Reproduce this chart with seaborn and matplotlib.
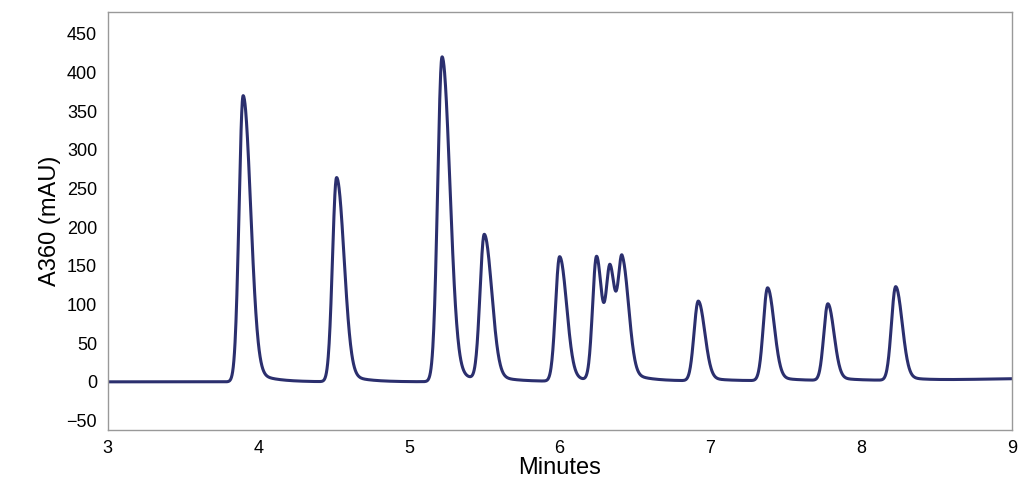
import numpy as np
import pandas as pd
import seaborn as sns
import matplotlib.pyplot as plt
from matplotlib.ticker import MultipleLocator

# Peak table
peak_times = [3.90, 4.52, 5.22, 5.50, 6.00, 6.245, 6.335, 6.415, 6.92, 7.38, 7.78, 8.23]
peak_heights = [370, 264, 420, 188, 161, 160, 140, 150, 103, 120, 99, 121]
peak_left_w = [0.027, 0.027, 0.029, 0.028, 0.027, 0.026, 0.026, 0.026, 0.028, 0.028, 0.027, 0.028]
peak_right_w = [0.048, 0.048, 0.050, 0.048, 0.045, 0.034, 0.032, 0.042, 0.042, 0.042, 0.040, 0.042]
baseline_times = [3.0, 5.0, 8.4, 9.0]
baseline_vals = [0.0, 0.0, 2.0, 4.0]

t = np.linspace(3, 9, 3000)
sig = np.interp(t, baseline_times, baseline_vals)
for c, h, wl, wr in zip(peak_times, peak_heights, peak_left_w, peak_right_w):
    w = np.where(t < c, wl, wr)
    sig += h * np.exp(-0.5 * ((t - c) / w) ** 2)
    tail = np.where(t > c, h * 0.06 * np.exp(-(t - c) / 0.12) * (1 - np.exp(-((t - c) / 0.05) ** 2)), 0)
    sig += tail
df = pd.DataFrame({"Minutes": t, "A360": sig})

sns.set_theme(style="white")
plt.rcParams['font.family'] = ['Liberation Sans', 'DejaVu Sans']
fig = plt.figure(figsize=(10.24, 4.84), dpi=100)
ax = fig.add_axes([0.105, 0.112, 0.883, 0.863])
sns.lineplot(data=df, x="Minutes", y="A360", ax=ax, color="#2b2f6e", linewidth=2.2)
ax.set_xlim(3, 9)
ax.set_ylim(-62, 478)
ax.yaxis.set_major_locator(MultipleLocator(50))
ax.xaxis.set_major_locator(MultipleLocator(1))
ax.xaxis.set_minor_locator(MultipleLocator(0.2))
ax.tick_params(axis="both", which="major", direction="out", length=4, labelsize=13, color="#444", labelcolor="black")
ax.tick_params(axis="x", which="minor", direction="out", length=2, color="#444")
for s in ax.spines.values():
    s.set_color("#999999")
    s.set_linewidth(1)
ax.set_xlabel("Minutes", fontsize=17, labelpad=0, color="black")
ax.set_ylabel("A360 (mAU)", fontsize=17, color="black")
fig.savefig("out.png", dpi=100)
